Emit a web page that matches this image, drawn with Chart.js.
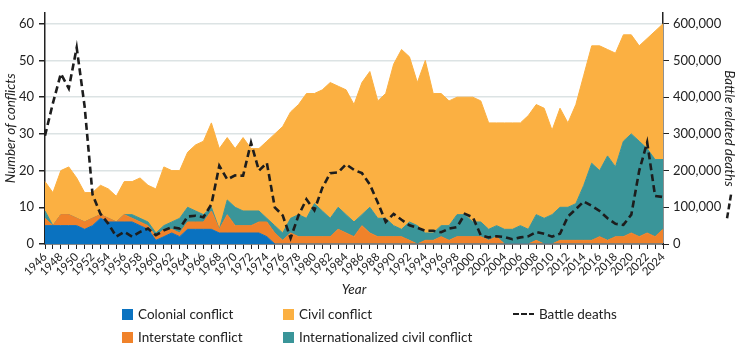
<!DOCTYPE html>
<html>
<head>
<meta charset="utf-8">
<script src="https://cdn.jsdelivr.net/npm/chart.js@4.4.1/dist/chart.umd.min.js"></script>
<style>
  html, body { margin: 0; padding: 0; background: #fff; }
  #wrap { position: relative; width: 741px; height: 350px; font-family: Lato, "Open Sans", sans-serif; }
  #conflictChart { position: absolute; left: 0; top: 0; }
  #legend {
    position: absolute; left: 122px; top: 306px;
    display: grid; grid-template-columns: 161px 230px auto;
    grid-template-rows: 16px 16px; grid-auto-flow: column; row-gap: 7px;
    font-size: 13.5px; color: #222;
  }
  .item { display: flex; align-items: center; white-space: nowrap; }
  .box { width: 11px; height: 11px; margin-right: 5px; }
  .dash { width: 21px; height: 2.5px; margin-right: 5px;
    background: repeating-linear-gradient(to right, #1d1d1d 0 6px, transparent 6px 8px); }
</style>
</head>
<body>
<div id="wrap">
  <canvas id="conflictChart" width="741" height="350"></canvas>
  <div id="legend"></div>
</div>
<script>
const years = [
  1946, 1947, 1948, 1949, 1950, 1951, 1952, 1953, 1954, 1955, 1956, 1957, 1958, 1959,
  1960, 1961, 1962, 1963, 1964, 1965, 1966, 1967, 1968, 1969, 1970, 1971, 1972, 1973, 1974,
  1975, 1976, 1977, 1978, 1979, 1980, 1981, 1982, 1983, 1984, 1985, 1986, 1987, 1988, 1989,
  1990, 1991, 1992, 1993, 1994, 1995, 1996, 1997, 1998, 1999, 2000, 2001, 2002, 2003, 2004,
  2005, 2006, 2007, 2008, 2009, 2010, 2011, 2012, 2013, 2014, 2015, 2016, 2017, 2018, 2019,
  2020, 2021, 2022, 2023, 2024
];

const colonial = [
  5, 5, 5, 5, 5, 4, 5, 7, 6, 6, 6, 6, 5, 4,
  1, 2, 3, 2, 4, 4, 4, 4, 3, 3, 3, 3, 3, 3, 2,
  0, 0, 0, 0, 0, 0, 0, 0, 0, 0, 0, 0, 0, 0, 0,
  0, 0, 0, 0, 0, 0, 0, 0, 0, 0, 0, 0, 0, 0, 0,
  0, 0, 0, 0, 0, 0, 0, 0, 0, 0, 0, 0, 0, 0, 0,
  0, 0, 0, 0, 0
];

const interstate = [
  2, 0, 3, 3, 2, 2, 2, 1, 1, 0, 2, 1, 1, 1,
  1, 2, 1, 1, 2, 2, 2, 5, 1, 5, 2, 2, 2, 3, 4,
  3, 1, 3, 2, 2, 2, 2, 2, 4, 3, 2, 5, 3, 2, 2,
  2, 2, 1, 0, 1, 1, 2, 1, 2, 2, 2, 2, 1, 2, 0,
  0, 0, 0, 1, 0, 0, 1, 1, 1, 1, 1, 2, 1, 2, 2,
  3, 2, 3, 2, 4
];

const internationalized = [
  2, 0, 0, 0, 0, 0, 0, 0, 0, 0, 0, 1, 1, 1,
  1, 1, 2, 4, 4, 3, 2, 1, 0, 4, 5, 4, 4, 3, 1,
  2, 2, 4, 6, 5, 9, 7, 5, 6, 5, 4, 3, 7, 5, 5,
  3, 2, 5, 5, 2, 2, 3, 4, 6, 6, 4, 4, 3, 3, 4,
  4, 5, 4, 7, 7, 8, 9, 9, 10, 15, 21, 18, 23, 19, 26,
  27, 26, 23, 21, 19
];

const civil = [
  8, 9, 12, 13, 11, 8, 7, 8, 8, 7, 9, 9, 11, 10,
  12, 16, 14, 13, 15, 18, 20, 23, 22, 17, 16, 20, 17, 17, 21,
  25, 29, 29, 30, 34, 30, 33, 37, 33, 34, 32, 36, 37, 32, 34,
  44, 49, 45, 39, 47, 38, 36, 34, 32, 32, 34, 33, 29, 28, 29,
  29, 28, 31, 30, 30, 23, 27, 23, 27, 30, 32, 34, 29, 31, 29,
  27, 26, 30, 35, 37
];

const battleDeaths = [
  295000, 384000, 464000, 424000, 535000, 375000, 135000, 82000, 55000, 20000, 33000, 20000, 33000, 42000,
  24000, 37000, 46000, 42000, 75000, 77000, 73000, 108000, 213000, 176000, 187000, 186000, 276000, 200000, 221000,
  100000, 78000, 16000, 78000, 122000, 92000, 153000, 193000, 195000, 217000, 202000, 193000, 162000, 113000, 60000,
  82000, 66000, 51000, 44000, 36000, 36000, 32000, 42000, 46000, 82000, 73000, 24000, 18000, 21000, 19000,
  13000, 18000, 21000, 33000, 28000, 20000, 28000, 75000, 95000, 116000, 104000, 90000, 70000, 55000, 52000,
  80000, 200000, 277000, 131000, 128000
];

const conflictTicks = [0, 10, 20, 30, 40, 50, 60];
const deathTicks = [0, 100000, 200000, 300000, 400000, 500000, 600000];

const seriesNames = ["Colonial conflict", "Interstate conflict", "Internationalized civil conflict", "Civil conflict"];
const seriesColors = ["#0a72c0", "#f0822a", "#3a9599", "#fbb042"];
const lineName = "Battle deaths";

const fontFamily = "Lato, 'Open Sans', sans-serif";

function areaDataset(label, data, color, fill) {
  return {
    label: label,
    data: data,
    yAxisID: "y",
    backgroundColor: color,
    borderColor: color,
    borderWidth: 1,
    pointRadius: 0,
    tension: 0,
    fill: fill
  };
}

// small dashed glyph after the right axis title
const deathsGlyph = {
  id: "deathsGlyph",
  afterDraw(chart) {
    const scale = chart.scales.y2;
    const ctx = chart.ctx;
    ctx.save();
    ctx.font = "italic 13.5px " + fontFamily;
    const w = ctx.measureText(scale.options.title.text).width;
    const cx = scale.right - 12;
    const cy = (chart.chartArea.top + chart.chartArea.bottom) / 2;
    const y0 = cy + w / 2 + 8;
    ctx.strokeStyle = "#1d1d1d";
    ctx.lineWidth = 2.5;
    ctx.setLineDash([6, 3]);
    ctx.beginPath();
    ctx.moveTo(cx + 2, y0);
    ctx.lineTo(cx - 2, y0 + 24);
    ctx.stroke();
    ctx.restore();
  }
};

const chart = new Chart(document.getElementById("conflictChart"), {
  type: "line",
  data: {
    labels: years,
    datasets: [
      areaDataset(seriesNames[0], colonial, seriesColors[0], "origin"),
      areaDataset(seriesNames[1], interstate, seriesColors[1], "-1"),
      areaDataset(seriesNames[2], internationalized, seriesColors[2], "-1"),
      areaDataset(seriesNames[3], civil, seriesColors[3], "-1"),
      {
        label: lineName,
        data: battleDeaths,
        yAxisID: "y2",
        order: -1,
        borderColor: "#1d1d1d",
        borderWidth: 2.6,
        borderDash: [7, 4],
        pointRadius: 0,
        tension: 0,
        fill: false
      }
    ]
  },
  options: {
    responsive: false,
    animation: false,
    layout: { padding: { top: 7, bottom: 50, left: 0, right: 0 } },
    plugins: {
      legend: { display: false },
      tooltip: { enabled: false }
    },
    scales: {
      x: {
        type: "category",
        offset: false,
        afterFit(scale) { scale.height = 56; },
        border: { color: "#222", width: 1.5 },
        grid: { drawOnChartArea: false, drawTicks: true, tickLength: 5, tickColor: "#222", tickWidth: 1 },
        ticks: {
          autoSkip: false,
          minRotation: 45,
          maxRotation: 45,
          padding: 1,
          color: "#222",
          font: { family: fontFamily, size: 11.5 },
          callback: function (value, index) {
            return index % 2 === 0 ? this.getLabelForValue(value) : "";
          }
        },
        title: {
          display: true,
          text: "Year",
          color: "#222",
          padding: { top: 0, bottom: 2 },
          font: { family: fontFamily, size: 13.5, style: "italic" }
        }
      },
      y: {
        position: "left",
        stacked: true,
        min: 0,
        max: 63,
        afterFit(scale) { scale.width = 45; },
        afterBuildTicks(scale) { scale.ticks = conflictTicks.map(v => ({ value: v })); },
        border: { color: "#222", width: 1.5 },
        grid: { color: "#dce3e4", lineWidth: 1.5, tickColor: "#222", tickLength: 6 },
        ticks: {
          padding: 5,
          color: "#222",
          font: { family: fontFamily, size: 13 }
        },
        title: {
          display: true,
          text: "Number of conflicts",
          color: "#222",
          padding: { top: 3, bottom: 0 },
          font: { family: fontFamily, size: 13.5, style: "italic" }
        }
      },
      y2: {
        position: "right",
        min: 0,
        max: 630000,
        afterFit(scale) { scale.width = 78; },
        afterBuildTicks(scale) { scale.ticks = deathTicks.map(v => ({ value: v })); },
        border: { color: "#222", width: 1.5 },
        grid: { drawOnChartArea: false, tickColor: "#222", tickLength: 6 },
        ticks: {
          padding: 4,
          color: "#222",
          font: { family: fontFamily, size: 13 },
          callback: value => value.toLocaleString("en-US")
        },
        title: {
          display: true,
          text: "Battle related deaths",
          color: "#222",
          padding: { top: 4, bottom: 0 },
          font: { family: fontFamily, size: 13.5, style: "italic" }
        }
      }
    }
  },
  plugins: [deathsGlyph]
});

// html legend, column by column: colonial/interstate, civil/internationalized, battle deaths
const legendOrder = [0, 1, 3, 2];
const legend = document.getElementById("legend");
legendOrder.forEach(i => {
  const div = document.createElement("div");
  div.className = "item";
  div.innerHTML = `<span class="box" style="background:${seriesColors[i]}"></span>${seriesNames[i]}`;
  legend.appendChild(div);
});
const lineItem = document.createElement("div");
lineItem.className = "item";
lineItem.innerHTML = `<span class="dash"></span>${lineName}`;
legend.appendChild(lineItem);
</script>
</body>
</html>
